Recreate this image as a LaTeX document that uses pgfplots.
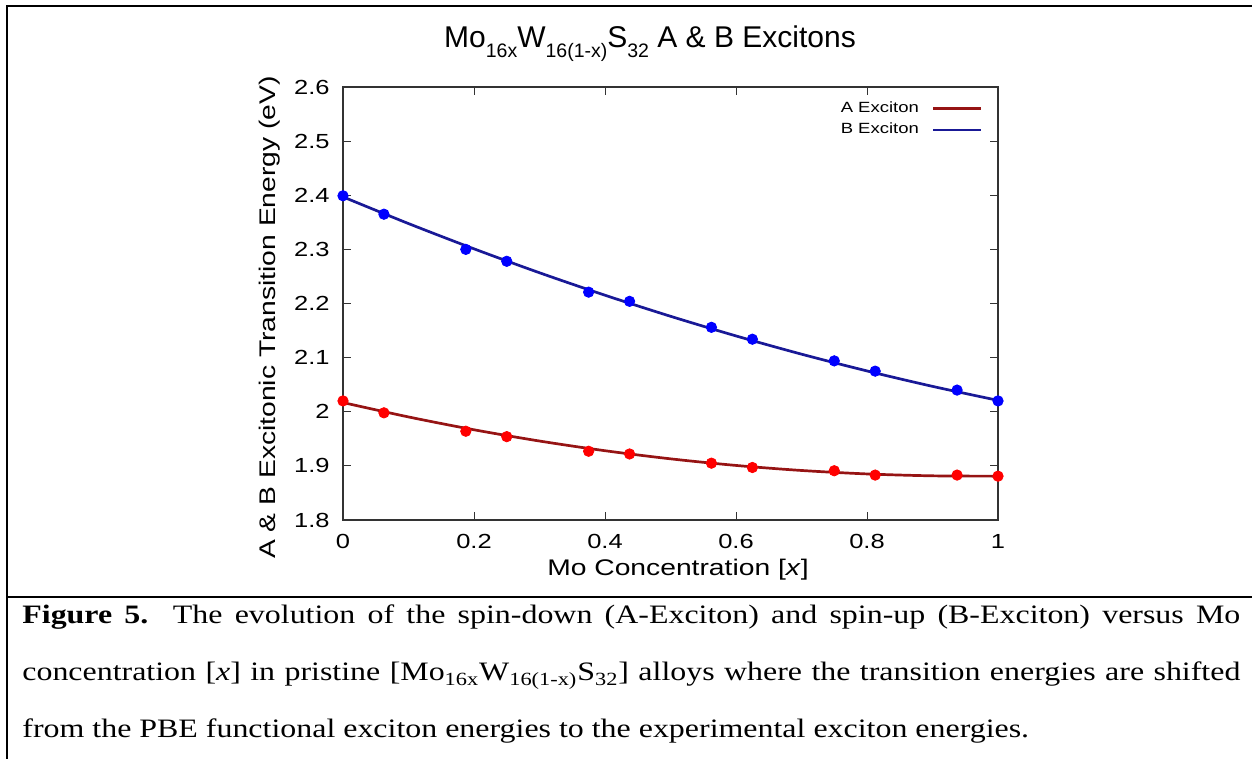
\documentclass[border=0pt]{standalone}
\usepackage{fontspec}
\setmainfont{Liberation Serif}[FakeStretch=1.2]
\newfontfamily\chartfont{Liberation Sans}[FakeStretch=1.25]
\newfontfamily\titlefont{Liberation Sans}
\usepackage{pgfplots}
\pgfplotsset{compat=1.18}
\definecolor{aline}{RGB}{150,20,20}
\definecolor{bline}{RGB}{25,25,150}
\definecolor{amark}{RGB}{255,0,0}
\definecolor{bmark}{RGB}{0,0,255}
\newcommand{\tsub}[1]{\raisebox{-5pt}{\fontsize{9.75}{10}\selectfont #1}}
\begin{document}
\begin{tikzpicture}
\path[use as bounding box] (0,0) rectangle (626pt,379.5pt);
\draw[line width=1pt] (3.5pt,0) -- (3.5pt,376.5pt) -- (626pt,376.5pt);
\draw[line width=1pt] (3.5pt,81pt) -- (626pt,81pt);
\node[anchor=base west, inner sep=0pt, font=\fontsize{13.3}{16}\selectfont] at (11pt,67.5pt)
  {\makebox[609pt][s]{\textbf{Figure 5.}\ \ The evolution of the spin-down (A-Exciton) and spin-up (B-Exciton) versus Mo}};
\node[anchor=base west, inner sep=0pt, font=\fontsize{13.3}{16}\selectfont] at (11pt,39pt)
  {\makebox[609pt][s]{concentration [\textit{x}] in pristine [Mo\textsubscript{16x}W\textsubscript{16(1-x)}S\textsubscript{32}] alloys where the transition energies are shifted}};
\node[anchor=base west, inner sep=0pt, font=\fontsize{13.3}{16}\selectfont] at (11pt,10.5pt)
  {from the PBE functional exciton energies to the experimental exciton energies.};
\begin{axis}[
  at={(171.5pt,119.5pt)}, anchor=south west,
  scale only axis, width=327.5pt, height=216.5pt,
  xmin=0, xmax=1, ymin=1.8, ymax=2.6,
  clip=false,
  xtick={0,0.2,0.4,0.6,0.8,1},
  ytick={1.8,1.9,2.0,2.1,2.2,2.3,2.4,2.5,2.6},
  /pgf/number format/fixed,
  /pgf/number format/precision=1,
  /pgf/number format/assume math mode=true,
  tick align=inside,
  major tick length=4pt,
  minor tick num=0,
  tick style={black!80, line width=0.5pt},
  axis line style={black!80, line width=0.6pt},
  ticklabel style={font=\chartfont\fontsize{10.2}{11}\selectfont},
  yticklabel style={anchor=east, inner sep=0pt, xshift=-6.5pt},
  xticklabel style={anchor=north, inner sep=0pt, yshift=-7pt},
  xlabel={Mo Concentration [\textit{x}]},
  ylabel={A \& B Excitonic Transition Energy (eV)},
  label style={font=\chartfont\fontsize{11.3}{13}\selectfont},
  xlabel style={at={(axis description cs:0.5115,-0.1155)}, anchor=center},
  ylabel style={at={(axis description cs:-0.1115,0.4677)}, anchor=center},
  title={\titlefont\fontsize{15}{18}\selectfont Mo\tsub{16x}W\tsub{16(1-x)}S\tsub{32} A \& B Excitons},
  title style={at={(axis description cs:0.4687,1.0624)}, anchor=base},
  legend style={draw=none, fill=none, at={(axis description cs:0.9771,0.977)}, anchor=north east,
    font=\chartfont\fontsize{7.4}{8.9}\selectfont, inner sep=0pt, row sep=0pt},
  legend cell align=right,
  legend plot pos=right,
  legend image code/.code={\path (0pt,0pt); \draw[#1] (4.5pt,0pt) -- (28.5pt,0pt);},
]
\addplot[aline, line width=1.35pt, smooth] coordinates {
(0,2.017) (0.1,1.9904) (0.2,1.9667) (0.3,1.9459) (0.4,1.9280) (0.5,1.9130)
(0.6,1.9008) (0.7,1.8915) (0.8,1.8851) (0.9,1.8816) (1.0,1.881)};
\addlegendentry{A Exciton}
\addplot[bline, line width=1.35pt, smooth] coordinates {
(0,2.397) (0.1,2.3477) (0.2,2.3010) (0.3,2.2568) (0.4,2.2153) (0.5,2.1764)
(0.6,2.1401) (0.7,2.1064) (0.8,2.0754) (0.9,2.0469) (1.0,2.021)};
\addlegendentry{B Exciton}
\addplot[only marks, mark=*, mark size=2.6pt, color=amark, forget plot] coordinates {
(0,2.020) (0.0625,1.998) (0.1875,1.964) (0.25,1.954) (0.375,1.927) (0.4375,1.922)
(0.5625,1.905) (0.625,1.897) (0.75,1.891) (0.8125,1.883) (0.9375,1.883) (1.0,1.881)};
\addplot[only marks, mark=*, mark size=2.6pt, color=bmark, forget plot] coordinates {
(0,2.399) (0.0625,2.365) (0.1875,2.300) (0.25,2.278) (0.375,2.221) (0.4375,2.204)
(0.5625,2.156) (0.625,2.134) (0.75,2.094) (0.8125,2.075) (0.9375,2.040) (1.0,2.020)};
\end{axis}
\end{tikzpicture}
\end{document}
